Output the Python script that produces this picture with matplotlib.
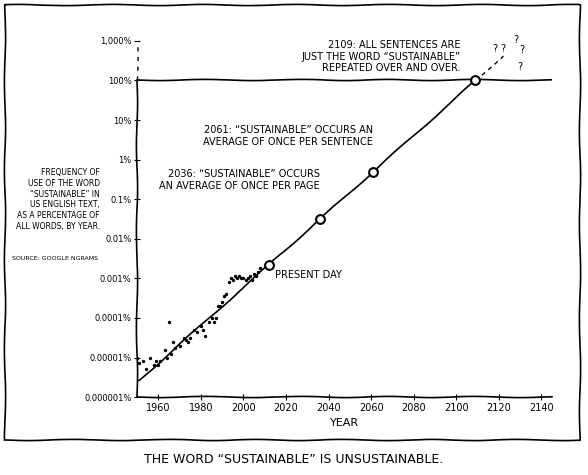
import numpy as np
import matplotlib
matplotlib.use("Agg")
import matplotlib.pyplot as plt
from matplotlib.patches import Rectangle

# observed Google Ngrams frequency (log10 of percent)
obs_years = [1950, 1951, 1953, 1954, 1956, 1958, 1959, 1960, 1961, 1963, 1964, 1965,
             1966, 1967, 1968, 1970, 1972, 1973, 1974, 1975, 1977, 1978, 1980, 1981,
             1982, 1984, 1985, 1986, 1987, 1988, 1989, 1990, 1991, 1992, 1993, 1994,
             1995, 1996, 1997, 1998, 1999, 2000, 2001, 2002, 2003, 2004, 2005, 2006,
             2007, 2008]
obs_log = [-5.0, -5.15, -5.1, -5.3, -5.0, -5.2, -5.1, -5.2, -5.1, -4.8, -5.0, -4.1,
           -4.9, -4.6, -4.75, -4.7, -4.5, -4.55, -4.6, -4.5, -4.3, -4.35, -4.2, -4.3,
           -4.45, -4.1, -4.0, -4.1, -4.0, -3.7, -3.7, -3.6, -3.45, -3.4, -3.1, -3.0,
           -3.05, -2.95, -3.0, -2.95, -3.0, -3.0, -3.05, -3.0, -2.95, -3.05, -2.9,
           -2.95, -2.85, -2.75]

# trend line and milestones
trend_years = [1951, 2109]
trend_log = [-5.58, 2.0]
extra_years = [2109, 2122]
extra_log = [2.0, 2.62]
mile_years = [2012, 2036, 2061, 2109]

yticks = [1e-6, 1e-5, 1e-4, 1e-3, 1e-2, 1e-1, 1, 10, 100, 1000]
ylabels = ["0.000001%", "0.00001%", "0.0001%", "0.001%", "0.01%", "0.1%", "1%",
           "10%", "100%", "1,000%"]
xticks = list(range(1960, 2141, 20))

plt.xkcd(scale=0.6, length=100, randomness=2)
plt.rcParams["font.family"] = ["DejaVu Sans"]
plt.rcParams["path.effects"] = []

fig = plt.figure(figsize=(5.88, 4.75), dpi=100)
fig.patches.append(Rectangle((0.009, 0.074), 0.978, 0.915, transform=fig.transFigure,
                             fill=False, lw=1.2, ec="black"))
ax = fig.add_axes([0.233, 0.164, 0.706, 0.75])
ax.set_yscale("log")
ax.set_xlim(1950, 2145)
ax.set_ylim(1e-6, 1e3)
for s in ["top", "right", "left"]:
    ax.spines[s].set_visible(False)
ax.spines["bottom"].set_linewidth(1.2)
ax.plot([1950, 1950], [1e-6, 100], color="black", lw=1.2, clip_on=False)
ax.plot([1950, 1950], [100, 1000], color="black", lw=1, ls=(0, (3, 4)), clip_on=False)
ax.axhline(100, color="black", lw=1.2)

ax.set_yticks(yticks)
ax.set_yticklabels(ylabels, fontsize=6)
ax.minorticks_off()
ax.set_xticks(xticks)
ax.tick_params(axis="both", width=0.8, length=4, direction="inout", pad=2)
ax.tick_params(axis="x", labelsize=7)
ax.set_xlabel("YEAR", fontsize=8)

ax.scatter(obs_years, 10 ** np.array(obs_log), s=2, color="black", zorder=3)
t = np.linspace(trend_years[0], trend_years[1], 50)
ax.plot(t, 10 ** np.interp(t, trend_years, trend_log), color="black", lw=1.2)
ax.plot(extra_years, 10 ** np.array(extra_log), color="black", lw=1, ls=(0, (3, 3)))
mile_vals = 10 ** np.interp(mile_years, trend_years, trend_log)
ax.scatter(mile_years, mile_vals, s=40, facecolor="white", edgecolor="black",
           lw=1.5, zorder=4)

ax.text(2015, mile_vals[0] * 0.75, "PRESENT DAY", fontsize=7, va="top")
ax.text(2036, 0.3, "2036: \u201cSUSTAINABLE\u201d OCCURS\nAN AVERAGE OF ONCE PER PAGE",
        fontsize=7, ha="right", va="center")
ax.text(2061, 4, "2061: \u201cSUSTAINABLE\u201d OCCURS AN\nAVERAGE OF ONCE PER SENTENCE",
        fontsize=7, ha="right", va="center")
ax.text(2102, 400, "2109: ALL SENTENCES ARE\nJUST THE WORD \u201cSUSTAINABLE\u201d\nREPEATED OVER AND OVER.",
        fontsize=7, ha="right", va="center", clip_on=False)
for qx, qy in [(2118, 520), (2122, 520), (2128, 900), (2131, 500), (2130, 180)]:
    ax.text(qx, qy, "?", fontsize=7, ha="center", clip_on=False)

fig.text(0.17, 0.58, "FREQUENCY OF\nUSE OF THE WORD\n\u201cSUSTAINABLE\u201d IN\nUS ENGLISH TEXT,\nAS A PERCENTAGE OF\nALL WORDS, BY YEAR.",
         fontsize=5.5, ha="right", va="center", linespacing=1.25)
fig.text(0.02, 0.452, "SOURCE: GOOGLE NGRAMS", fontsize=4.5, ha="left")
fig.text(0.5, 0.025, "THE WORD \u201cSUSTAINABLE\u201d IS UNSUSTAINABLE.", fontsize=9,
         ha="center")

fig.savefig("out.png", dpi=100)
